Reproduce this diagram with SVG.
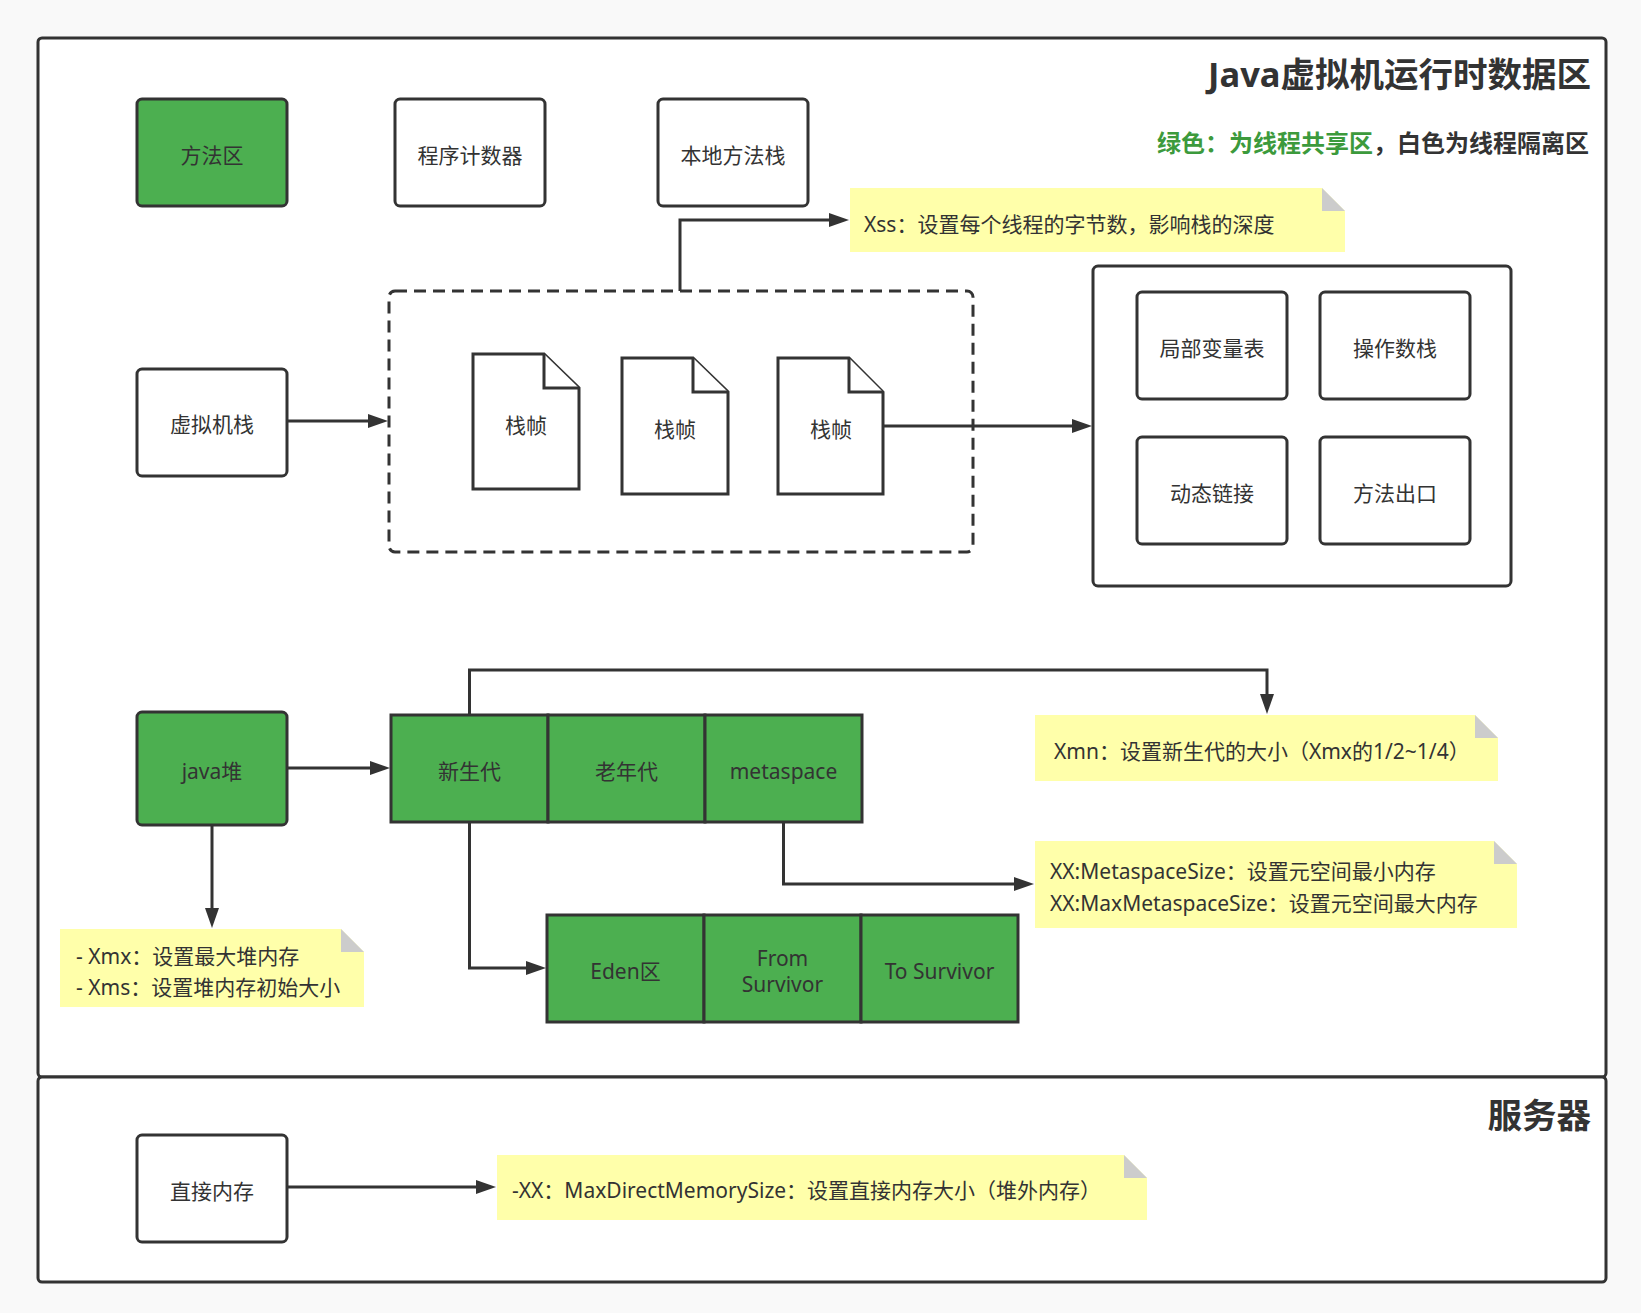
<svg xmlns="http://www.w3.org/2000/svg" width="1641" height="1313" viewBox="0 0 1641 1313">
<defs>
<style>
text{font-family:"Noto Sans","Noto Sans CJK SC",sans-serif;fill:#333333;dominant-baseline:central}
.lbl{font-size:21px;text-anchor:middle}
.nt{font-size:21px}
.box{fill:#ffffff;stroke:#333333;stroke-width:3}
.gbox{fill:#4caf50;stroke:#333333;stroke-width:3}
.cell{fill:#4caf50;stroke:#333333;stroke-width:3}
.frame{fill:#ffffff;stroke:#333333;stroke-width:3}
.note{fill:#ffffaa;stroke:none}
.fold{fill:#cccccc;stroke:none}
.doc{fill:#ffffff;stroke:#333333;stroke-width:3}
.edge{fill:none;stroke:#333333;stroke-width:3;marker-end:url(#arrow)}
.title{font-size:34.5px;font-weight:bold;text-anchor:end}
</style>
<marker id="arrow" markerUnits="userSpaceOnUse" markerWidth="20" markerHeight="14" refX="1" refY="7" orient="auto">
<path d="M0,0 L20,7 L0,14 Z" fill="#333333"/>
</marker>
</defs>
<rect x="0" y="0" width="1641" height="1313" fill="#f9f9f9"/>

<g id="frame-jvm">
<rect class="frame" x="38" y="38" width="1568" height="1039" rx="4"/>
<text class="title" x="1591" y="73">Java虚拟机运行时数据区</text>
<text x="1589" y="142" style="font-size:24px;font-weight:bold;text-anchor:end"><tspan style="fill:#3c9a3c">绿色：为线程共享区</tspan><tspan>，白色为线程隔离区</tspan></text>
</g>
<g id="frame-server">
<rect class="frame" x="38" y="1077" width="1568" height="205" rx="4"/>
<text class="title" x="1591" y="1114">服务器</text>
</g>

<g id="node-method-area"><rect class="gbox" x="137" y="99" width="150" height="107" rx="5"/><text class="lbl" x="212" y="155">方法区</text></g>
<g id="node-pc"><rect class="box" x="395" y="99" width="150" height="107" rx="5"/><text class="lbl" x="470" y="155">程序计数器</text></g>
<g id="node-native-stack"><rect class="box" x="658" y="99" width="150" height="107" rx="5"/><text class="lbl" x="733" y="155">本地方法栈</text></g>

<g id="note-xss"><path class="note" d="M850,188 H1322 L1345,211 V252 H850 Z"/><path class="fold" d="M1322,188 L1345,211 H1322 Z"/><text class="nt" x="864" y="224">Xss：设置每个线程的字节数，影响栈的深度</text></g>

<g id="group-stack-frames"><rect x="389" y="291" width="584" height="261" rx="6" fill="none" stroke="#333333" stroke-width="3" stroke-dasharray="12 7"/></g>

<g id="node-vm-stack"><rect class="box" x="137" y="369" width="150" height="107" rx="5"/><text class="lbl" x="212" y="424">虚拟机栈</text></g>

<g id="node-frame1"><path class="doc" d="M473,354 H544 L579,388 V489 H473 Z"/><path class="doc" d="M544,354 V388 H579" fill="none"/><text class="lbl" x="526" y="425">栈帧</text></g>
<g id="node-frame2"><path class="doc" d="M622,358 H693 L728,392 V494 H622 Z"/><path class="doc" d="M693,358 V392 H728" fill="none"/><text class="lbl" x="675" y="429">栈帧</text></g>
<g id="node-frame3"><path class="doc" d="M778,358 H849 L883,392 V494 H778 Z"/><path class="doc" d="M849,358 V392 H883" fill="none"/><text class="lbl" x="831" y="429">栈帧</text></g>

<g id="node-frame-content"><rect class="box" x="1093" y="266" width="418" height="320" rx="5"/></g>
<g id="node-locals"><rect class="box" x="1137" y="292" width="150" height="107" rx="5"/><text class="lbl" x="1212" y="348">局部变量表</text></g>
<g id="node-operand"><rect class="box" x="1320" y="292" width="150" height="107" rx="5"/><text class="lbl" x="1395" y="348">操作数栈</text></g>
<g id="node-dynlink"><rect class="box" x="1137" y="437" width="150" height="107" rx="5"/><text class="lbl" x="1212" y="493">动态链接</text></g>
<g id="node-return"><rect class="box" x="1320" y="437" width="150" height="107" rx="5"/><text class="lbl" x="1395" y="493">方法出口</text></g>

<g id="node-heap"><rect class="gbox" x="137" y="712" width="150" height="113" rx="5"/><text class="lbl" x="212" y="771">java堆</text></g>
<g id="node-young"><rect class="cell" x="391" y="715" width="157" height="107"/><text class="lbl" x="469.5" y="771">新生代</text></g>
<g id="node-old"><rect class="cell" x="548" y="715" width="157" height="107"/><text class="lbl" x="626.5" y="771">老年代</text></g>
<g id="node-metaspace"><rect class="cell" x="705" y="715" width="157" height="107"/><text class="lbl" x="783.5" y="771">metaspace</text></g>

<g id="node-eden"><rect class="cell" x="547" y="915" width="157" height="107"/><text class="lbl" x="625.5" y="971">Eden区</text></g>
<g id="node-from"><rect class="cell" x="704" y="915" width="157" height="107"/><text class="lbl" x="782.5" y="958">From</text><text class="lbl" x="782.5" y="984">Survivor</text></g>
<g id="node-to"><rect class="cell" x="861" y="915" width="157" height="107"/><text class="lbl" x="939.5" y="971">To Survivor</text></g>

<g id="note-xmn"><path class="note" d="M1035,715 H1475 L1498,738 V781 H1035 Z"/><path class="fold" d="M1475,715 L1498,738 H1475 Z"/><text class="nt" x="1054" y="751">Xmn：设置新生代的大小（Xmx的1/2~1/4）</text></g>
<g id="note-metaspace"><path class="note" d="M1035,841 H1494 L1517,864 V928 H1035 Z"/><path class="fold" d="M1494,841 L1517,864 H1494 Z"/><text class="nt" x="1050" y="871">XX:MetaspaceSize：设置元空间最小内存</text><text class="nt" x="1050" y="903">XX:MaxMetaspaceSize：设置元空间最大内存</text></g>
<g id="note-xmx"><path class="note" d="M60,929 H341 L364,952 V1007 H60 Z"/><path class="fold" d="M341,929 L364,952 H341 Z"/><text class="nt" x="76" y="956">- Xmx：设置最大堆内存</text><text class="nt" x="76" y="987">- Xms：设置堆内存初始大小</text></g>

<g id="node-direct"><rect class="box" x="137" y="1135" width="150" height="107" rx="5"/><text class="lbl" x="212" y="1191">直接内存</text></g>
<g id="note-direct"><path class="note" d="M497,1155 H1124 L1147,1178 V1220 H497 Z"/><path class="fold" d="M1124,1155 L1147,1178 H1124 Z"/><text class="nt" x="512" y="1190">-XX：MaxDirectMemorySize：设置直接内存大小（堆外内存）</text></g>

<g id="connectors">
<path class="edge" d="M680,291 V220 H830"/>
<path class="edge" d="M287,421 H369"/>
<path class="edge" d="M883,426 H1073"/>
<path class="edge" d="M469.5,715 V670 H1267 V695"/>
<path class="edge" d="M783.5,822 V884 H1015"/>
<path class="edge" d="M469.5,822 V968 H527"/>
<path class="edge" d="M287,768 H371"/>
<path class="edge" d="M212,825 V909"/>
<path class="edge" d="M287,1187 H477"/>
</g>
</svg>
